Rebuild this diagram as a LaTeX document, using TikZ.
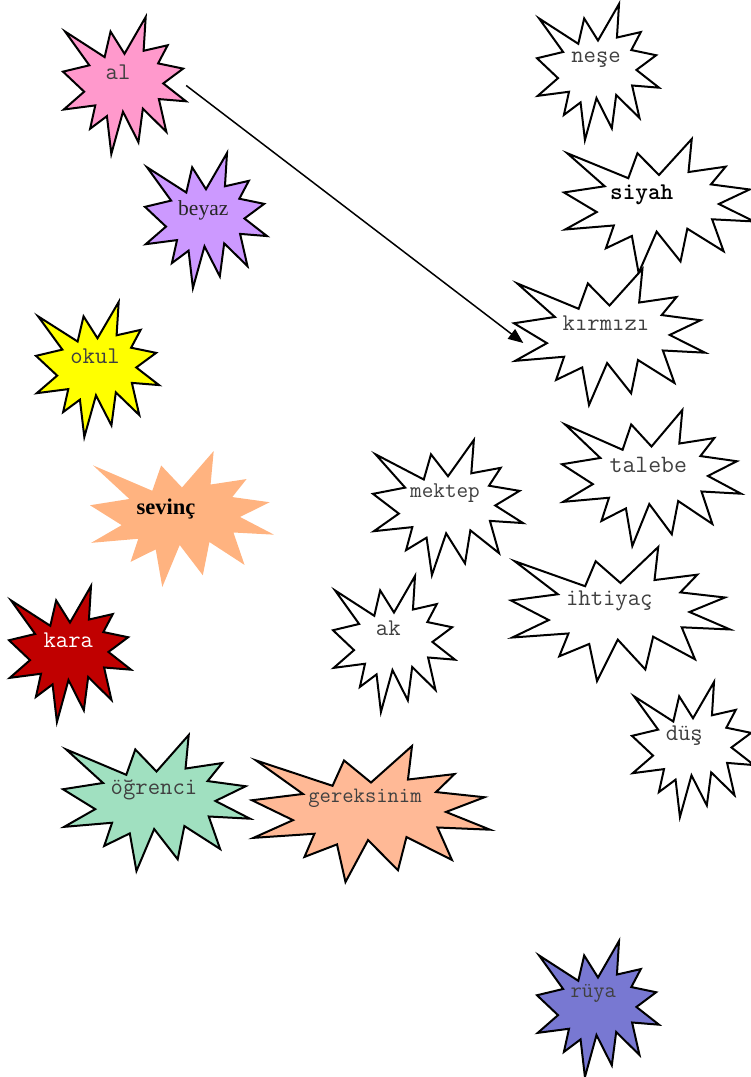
\documentclass[tikz,border=0pt]{standalone}
\usepackage{fontspec}
\setmainfont{Liberation Serif}
\usetikzlibrary{arrows.meta,calc}
\definecolor{cpink}{HTML}{FF99CC}
\definecolor{clav}{HTML}{CC99FF}
\definecolor{cyel}{HTML}{FFFF00}
\definecolor{corange}{HTML}{FFB380}
\definecolor{cred}{HTML}{C00000}
\definecolor{cmint}{HTML}{A0E0C0}
\definecolor{csalmon}{HTML}{FFB996}
\definecolor{cblue}{HTML}{7878D2}
\definecolor{txtgray}{HTML}{404040}
\newcommand\starburst[6]{%
  \begin{scope}[shift={(#2,#3)},xscale=#4/216,yscale=#5/216]
    \path[#6] (108,58) -- (145.22,0) -- (141.55,53.25) -- (183.80,44.57) -- (167.02,73.15)
      -- (210.97,81.37) -- (176.07,104.75) -- (216,132.90) -- (168.37,129.42) -- (181.45,180.95)
      -- (140.20,144.57) -- (132.47,197.37) -- (105.32,149.35) -- (84.85,216) -- (77.15,156.27)
      -- (47.62,176.17) -- (56.67,139.37) -- (1.35,145.87) -- (37.22,117.75) -- (0,86.15)
      -- (46.27,76.17) -- (3.70,22.95) -- (73.12,63.20) -- (83.52,22.95) -- cycle;
  \end{scope}
  \node[bbox, minimum width=#4pt, minimum height=#5pt] (#1) at ({#2+#4/2},{#3+#5/2}) {};
}
\tikzset{
  bbox/.style={inner sep=0pt, draw=none},
  outl/.style={draw=black, line width=2pt, line join=miter},
  mono/.style={inner sep=0pt, text=txtgray, font=\fontsize{#1}{#1}\selectfont\ttfamily},
  serif/.style={inner sep=0pt, text=black, font=\fontsize{#1}{#1}\selectfont},
  arrowline/.style={draw=black, line width=1.5pt, -{Triangle[length=15pt,width=12pt]}}
}
\begin{document}
\begin{tikzpicture}[x=1pt,y=-1pt]
\useasboundingbox (0,0) rectangle (751,1077);
\starburst{al}{63}{17}{123}{137}{outl, fill=cpink}
\starburst{beyaz}{145}{153}{122}{135}{outl, fill=clav}
\starburst{okul}{36}{302}{123}{135}{outl, fill=cyel}
\starburst{sevinc}{90}{451}{184}{136}{fill=corange}
\starburst{kara}{9}{586}{122}{136}{outl, fill=cred}
\starburst{ogrenci}{63}{735}{187}{136}{outl, fill=cmint}
\starburst{gereksinim}{252}{746}{238}{136}{outl, fill=csalmon}
\starburst{nese}{537}{4}{122}{136}{outl, fill=white}
\starburst{siyah}{564}{139}{190}{134}{outl, fill=white}
\starburst{kirmizi}{514}{269}{191}{136}{outl, fill=white}
\starburst{talebe}{562}{410}{179}{136}{outl, fill=white}
\starburst{mektep}{373}{440}{150}{135}{outl, fill=white}
\starburst{ak}{333}{576}{122}{136}{outl, fill=white}
\starburst{ihtiyac}{511}{547}{219}{134}{outl, fill=white}
\starburst{dus}{632}{682}{122}{135}{outl, fill=white}
\starburst{ruya}{537}{941}{122}{136}{outl, fill=cblue}

\node[mono=24] (t-al) at (118,72.7) {al};
\node[serif=21.5, text=black!85] (t-beyaz) at (203.3,210) {beyaz};
\node[mono=24] (t-okul) at (95,356.7) {okul};
\node[serif=22.5, font=\fontsize{22.5}{22.5}\selectfont\bfseries] (t-sevinc) at (166,509.3) {sevinç};
\node[mono=24, text=white] (t-kara) at (68.3,640.7) {kara};
\node[mono=24] (t-ogrenci) at (154,790) {öğrenci};
\node[mono=22] (t-gereksinim) at (365,798.3) {gereksinim};
\node[mono=24] (t-nese) at (596,59.3) {neşe};
\node[mono=24, text=black, font=\fontsize{24}{24}\selectfont\ttfamily\bfseries] (t-siyah) at (641.7,195) {siyah};
\node[mono=24] (t-kirmizi) at (606,322.7) {kırmızı};
\node[mono=25] (t-talebe) at (648.3,465) {talebe};
\node[mono=22.5] (t-mektep) at (445,492.7) {mektep};
\node[mono=24] (t-ak) at (388.3,628.3) {ak};
\node[mono=24] (t-ihtiyac) at (609.3,601) {ihtiyaç};
\node[mono=24] (t-dus) at (684.3,736) {düş};
\node[mono=22] (t-ruya) at (593.3,993.3) {rüya};

\draw[arrowline] (al.east) -- ($(kirmizi.west)+(9.5,6)$);
\end{tikzpicture}
\end{document}
